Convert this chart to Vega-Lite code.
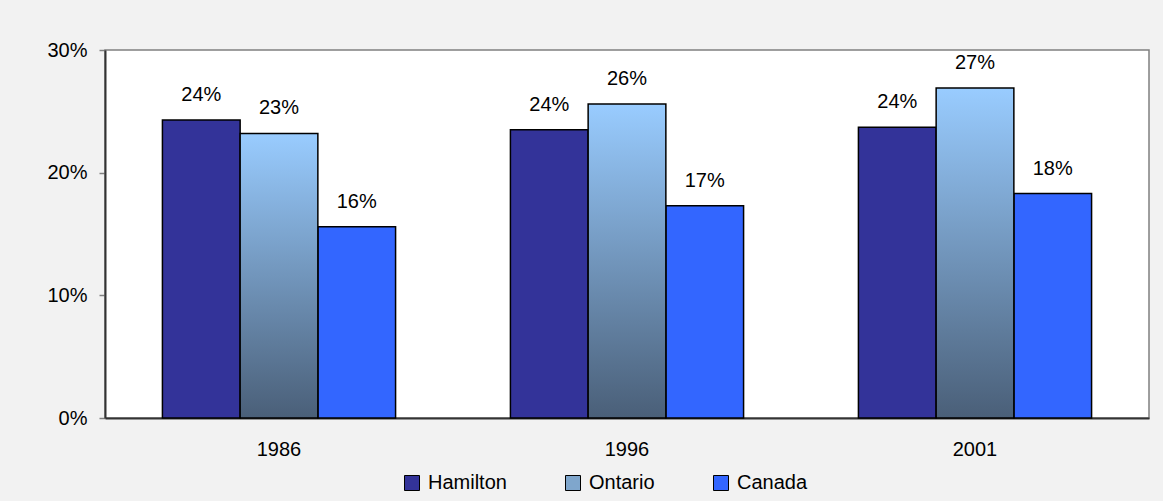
{
  "$schema": "https://vega.github.io/schema/vega-lite/v6.json",
  "width": 1044,
  "height": 368,
  "autosize": {"type": "none"},
  "padding": {"left": 105, "top": 50, "right": 14, "bottom": 83},
  "background": "#f2f2f2",
  "config": {
    "font": "Liberation Sans",
    "view": {"fill": "white", "stroke": "#808080", "strokeWidth": 1.5},
    "axis": {"labelFont": "Liberation Sans", "labelFontSize": 20, "labelColor": "black", "grid": false, "title": null}
  },
  "data": {
    "values": [
      {"year": "1986", "series": "Hamilton", "value": 0.243},
      {"year": "1986", "series": "Ontario", "value": 0.232},
      {"year": "1986", "series": "Canada", "value": 0.156},
      {"year": "1996", "series": "Hamilton", "value": 0.235},
      {"year": "1996", "series": "Ontario", "value": 0.256},
      {"year": "1996", "series": "Canada", "value": 0.173},
      {"year": "2001", "series": "Hamilton", "value": 0.237},
      {"year": "2001", "series": "Ontario", "value": 0.269},
      {"year": "2001", "series": "Canada", "value": 0.183}
    ]
  },
  "encoding": {
    "x": {
      "field": "year", "type": "nominal",
      "scale": {"paddingInner": 0.33, "paddingOuter": 0.165},
      "axis": {"labelAngle": 0, "ticks": false, "labelPadding": 21, "domainColor": "#333333", "domainWidth": 2}
    },
    "xOffset": {
      "field": "series", "type": "nominal",
      "scale": {"domain": ["Hamilton", "Ontario", "Canada"], "paddingInner": 0, "paddingOuter": 0}
    },
    "y": {
      "field": "value", "type": "quantitative",
      "scale": {"domain": [0, 0.3], "nice": false},
      "axis": {"values": [0, 0.1, 0.2, 0.3], "format": ".0%", "tickSize": 6, "tickColor": "#808080", "tickWidth": 1.5, "labelPadding": 12, "domainColor": "#333333", "domainWidth": 2}
    }
  },
  "layer": [
    {
      "transform": [{"filter": "datum.series !== 'Ontario'"}],
      "mark": {"type": "bar", "stroke": "black", "strokeWidth": 1.5},
      "encoding": {
        "color": {
          "field": "series", "type": "nominal",
          "scale": {"domain": ["Hamilton", "Ontario", "Canada"], "range": ["#333399", "#7fa6cc", "#3366ff"]},
          "legend": {
            "orient": "none", "legendX": 297, "legendY": 423, "direction": "horizontal",
            "title": null, "symbolType": "square", "symbolSize": 225,
            "symbolStrokeColor": "black", "symbolStrokeWidth": 1,
            "labelFontSize": 20, "labelFont": "Liberation Sans", "labelColor": "black",
            "labelOffset": 6, "columnPadding": 56
          }
        }
      }
    },
    {
      "transform": [{"filter": "datum.series === 'Ontario'"}],
      "mark": {
        "type": "bar", "stroke": "black", "strokeWidth": 1.5,
        "fill": {"gradient": "linear", "x1": 0, "y1": 0, "x2": 0, "y2": 1,
          "stops": [{"offset": 0, "color": "#99ccff"}, {"offset": 1, "color": "#4a5f78"}]}
      }
    },
    {
      "mark": {"type": "text", "baseline": "alphabetic", "dy": -19, "fontSize": 20, "font": "Liberation Sans", "color": "black"},
      "encoding": {"text": {"field": "value", "type": "quantitative", "format": ".0%"}}
    }
  ]
}
